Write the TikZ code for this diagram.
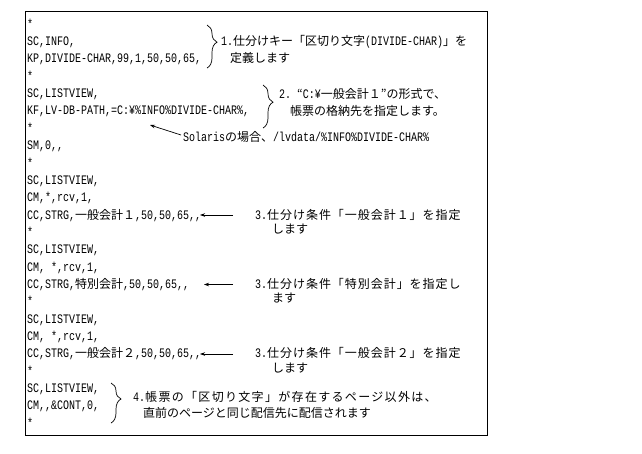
\documentclass[tikz,border=0pt]{standalone}
\usepackage{fontspec}
\setmainfont{Liberation Mono}[FakeStretch=0.769,Ligatures=TeXOff]
\newfontfamily\cjk{Noto Sans CJK JP}[Scale=0.923]
\usetikzlibrary{arrows.meta,decorations.pathreplacing}
\newcommand\jp[1]{{\cjk #1}}
\newcommand\jpw[2]{{\cjk\addfontfeature{LetterSpace=#1}#2}}
\begin{document}
\begin{tikzpicture}[x=1pt,y=-1pt,
  code/.style={anchor=base west,inner sep=0pt,font=\fontsize{13}{13}\selectfont},
  note/.style={anchor=base west,inner sep=0pt,font=\fontsize{13}{13}\selectfont},
  arr/.style={-{Stealth[length=5pt,width=3.5pt]},line width=0.7pt},
  brc/.style={decorate,decoration={brace,amplitude=10pt,aspect=0.4},line width=0.7pt}]
\useasboundingbox (0,0) rectangle (642,453);
\draw[line width=0.8pt] (25,11) rectangle (487,435);
% code lines
\node[code] (l0)  at (27,28.2)   {*};
\node[code] (l1)  at (27,45.55)  {SC,INFO,};
\node[code] (l2)  at (27,62.9)   {KP,DIVIDE-CHAR,99,1,50,50,65,};
\node[code] (l3)  at (27,80.25)  {*};
\node[code] (l4)  at (27,97.6)   {SC,LISTVIEW,};
\node[code] (l5)  at (27,114.95) {KF,LV-DB-PATH,=C:¥\%INFO\%DIVIDE-CHAR\%,};
\node[code] (l6)  at (27,132.3)  {*};
\node[code] (l7)  at (27,149.65) {SM,0,,};
\node[code] (l8)  at (27,167.0)  {*};
\node[code] (l9)  at (27,184.35) {SC,LISTVIEW,};
\node[code] (l10) at (27,201.7)  {CM,*,rcv,1,};
\node[code] (l11) at (27,219.05) {CC,STRG,\jp{一般会計１},50,50,65,,};
\node[code] (l12) at (27,236.4)  {*};
\node[code] (l13) at (27,253.75) {SC,LISTVIEW,};
\node[code] (l14) at (27,271.1)  {CM, *,rcv,1,};
\node[code] (l15) at (27,288.45) {CC,STRG,\jp{特別会計},50,50,65,,};
\node[code] (l16) at (27,305.8)  {*};
\node[code] (l17) at (27,323.15) {SC,LISTVIEW,};
\node[code] (l18) at (27,340.5)  {CM, *,rcv,1,};
\node[code] (l19) at (27,357.85) {CC,STRG,\jp{一般会計２},50,50,65,,};
\node[code] (l20) at (27,375.2)  {*};
\node[code] (l21) at (27,392.55) {SC,LISTVIEW,};
\node[code] (l22) at (27,409.9)  {CM,,\&CONT,0,};
\node[code] (l23) at (27,427.25) {*};
% annotation 1
\coordinate (b1t) at (207,25);
\coordinate (b1b) at (207,68);
\draw[brc] (b1t) -- (b1b);
\node[note] (a1a) at (221,45.55) {1.\jp{仕分けキー「区切り文字}(DIVIDE-CHAR)\jp{」を}};
\node[note] (a1b) at (230,62.9) {\jp{定義します}};
% annotation 2
\coordinate (b2t) at (263,85);
\coordinate (b2b) at (263,128);
\draw[brc] (b2t) -- (b2b);
\node[note] (a2a) at (279,98) {2.\ \jp{“}C:¥\jp{一般会計１”の形式で、}};
\node[note] (a2b) at (290,115) {\jp{帳票の格納先を指定します。}};
% Solaris
\node[note] (sol) at (183,141) {Solaris\jp{の場合、}/lvdata/\%INFO\%DIVIDE-CHAR\%};
\coordinate (solh) at (150,125);
\coordinate (solt) at (181,135);
\draw[arr] (solt) -- (solh);
% annotation 3a
\node[note] (a3a) at (255,219.05) {3.\jpw{8}{仕分け条件「一般会計１」を指定}};
\node[note] (a3b) at (272,233) {\jp{します}};
\coordinate (t3a) at (233,215);
\coordinate (h3a) at (200,215);
\draw[arr] (t3a) -- (h3a);
% annotation 3b
\node[note] (a3c) at (255,288.45) {3.\jpw{8}{仕分け条件「特別会計」を指定し}};
\node[note] (a3d) at (272,302.5) {\jp{ます}};
\coordinate (t3b) at (233,284.5);
\coordinate (h3b) at (204,284.5);
\draw[arr] (t3b) -- (h3b);
% annotation 3c
\node[note] (a3e) at (255,357.85) {3.\jpw{8}{仕分け条件「一般会計２」を指定}};
\node[note] (a3f) at (272,372) {\jp{します}};
\coordinate (t3c) at (233,354);
\coordinate (h3c) at (200,354);
\draw[arr] (t3c) -- (h3c);
% annotation 4
\coordinate (b4t) at (111,383);
\coordinate (b4b) at (111,423);
\draw[brc] (b4t) -- (b4b);
\node[note] (a4a) at (133,401) {4.\jpw{11}{帳票の「区切り文字」が存在するページ以外は、}};
\node[note] (a4b) at (143,417) {\jp{直前のページと同じ配信先に配信されます}};
\end{tikzpicture}
\end{document}
